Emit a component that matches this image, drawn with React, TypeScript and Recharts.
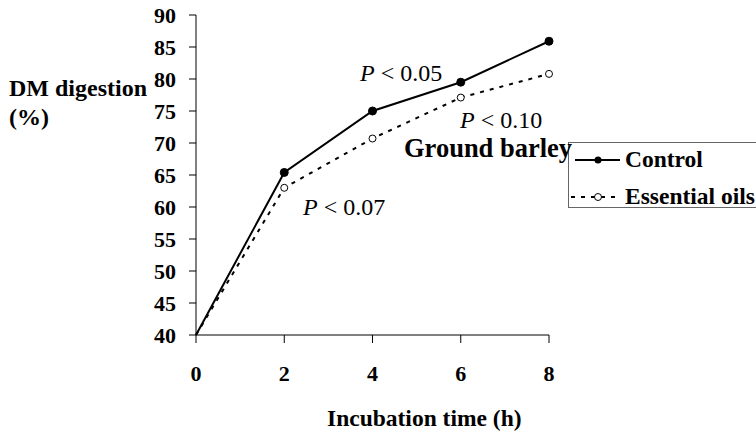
import React from 'react';
import { LineChart, Line, XAxis, YAxis } from 'recharts';

const hours = [0, 2, 4, 6, 8];
const control = [40, 65.4, 75.0, 79.5, 85.9];
const essentialOils = [40, 63.0, 70.7, 77.1, 80.8];
const xTicks = [0, 2, 4, 6, 8];
const yTicks = [40, 45, 50, 55, 60, 65, 70, 75, 80, 85, 90];

const data = hours.map((h, i) => ({ h, control: control[i], oils: essentialOils[i] }));

const SERIF = '"Liberation Serif", "Times New Roman", serif';

const FilledDot = (props: any) => {
  const { cx, cy, index } = props;
  if (index === 0) return <g key={`c-${index}`} />;
  return <circle key={`c-${index}`} cx={cx} cy={cy} r={4} fill="#000" stroke="#000" />;
};

const OpenDot = (props: any) => {
  const { cx, cy, index } = props;
  if (index === 0) return <g key={`o-${index}`} />;
  return <circle key={`o-${index}`} cx={cx} cy={cy} r={3.5} fill="#fff" stroke="#000" strokeWidth={1} />;
};

// legend drawn by hand, sits on the right edge like the original
const LegendBox = () => (
  <div
    style={{
      position: 'absolute',
      left: 568,
      top: 142,
      border: '1px solid #666',
      background: '#fff',
      width: 200,
      height: 64,
      fontFamily: SERIF,
      fontWeight: 'bold',
      fontSize: 23.5,
    }}
  >
    <svg width={56} height={64} style={{ position: 'absolute', left: 0, top: 0 }}>
      <line x1={6} y1={17} x2={51} y2={17} stroke="#000" strokeWidth={2} />
      <circle cx={29} cy={17} r={3.5} fill="#000" />
      <line x1={2} y1={54} x2={51} y2={54} stroke="#000" strokeWidth={2} strokeDasharray="4 6" />
      <circle cx={29} cy={54} r={3.5} fill="#fff" stroke="#000" />
    </svg>
    <div style={{ position: 'absolute', left: 56, top: 5, lineHeight: '22px' }}>Control</div>
    <div style={{ position: 'absolute', left: 56, top: 42, lineHeight: '22px', whiteSpace: 'nowrap' }}>Essential oils</div>
  </div>
);

const note = (left: number, top: number, value: string) => (
  <div
    style={{
      position: 'absolute',
      left,
      top,
      fontFamily: SERIF,
      fontSize: 24,
      lineHeight: '22px',
      whiteSpace: 'nowrap',
    }}
  >
    <i>P</i> &lt; {value}
  </div>
);

const boldText: React.CSSProperties = {
  position: 'absolute',
  fontFamily: SERIF,
  fontWeight: 'bold',
  fontSize: 24,
  lineHeight: '22px',
  whiteSpace: 'nowrap',
};

export default function App() {
  return (
    <div style={{ position: 'absolute', left: 0, top: 0, width: 756, height: 433, background: '#fff', overflow: 'hidden' }}>
      <LineChart width={756} height={433} data={data} margin={{ top: 15, right: 207, left: 0, bottom: 0 }}>
        <XAxis
          dataKey="h"
          type="number"
          domain={[0, 8]}
          ticks={xTicks}
          interval={0}
          height={98}
          tickSize={8}
          tickMargin={22}
          stroke="#000"
          tickLine={{ stroke: '#000' }}
          tick={{ fill: '#000', fontFamily: SERIF, fontWeight: 'bold', fontSize: 22 }}
        />
        <YAxis
          type="number"
          domain={[40, 90]}
          ticks={yTicks}
          interval={0}
          width={196}
          tickSize={7}
          tickMargin={13}
          stroke="#000"
          tickLine={{ stroke: '#000' }}
          tick={{ fill: '#000', fontFamily: SERIF, fontWeight: 'bold', fontSize: 22 }}
        />
        <Line
          dataKey="oils"
          name="Essential oils"
          stroke="#000"
          strokeWidth={2}
          strokeDasharray="4 6"
          dot={<OpenDot />}
          isAnimationActive={false}
        />
        <Line
          dataKey="control"
          name="Control"
          stroke="#000"
          strokeWidth={2}
          dot={<FilledDot />}
          isAnimationActive={false}
        />
      </LineChart>
      <LegendBox />
      <div style={{ ...boldText, left: 9, top: 77 }}>DM digestion</div>
      <div style={{ ...boldText, left: 9, top: 106 }}>(%)</div>
      <div style={{ ...boldText, left: 327, top: 407, fontSize: 23.5 }}>Incubation time (h)</div>
      <div style={{ ...boldText, left: 404, top: 137, fontSize: 26.5, lineHeight: '23px' }}>Ground barley</div>
      {note(360, 62, '0.05')}
      {note(460, 109, '0.10')}
      {note(303, 196, '0.07')}
    </div>
  );
}
